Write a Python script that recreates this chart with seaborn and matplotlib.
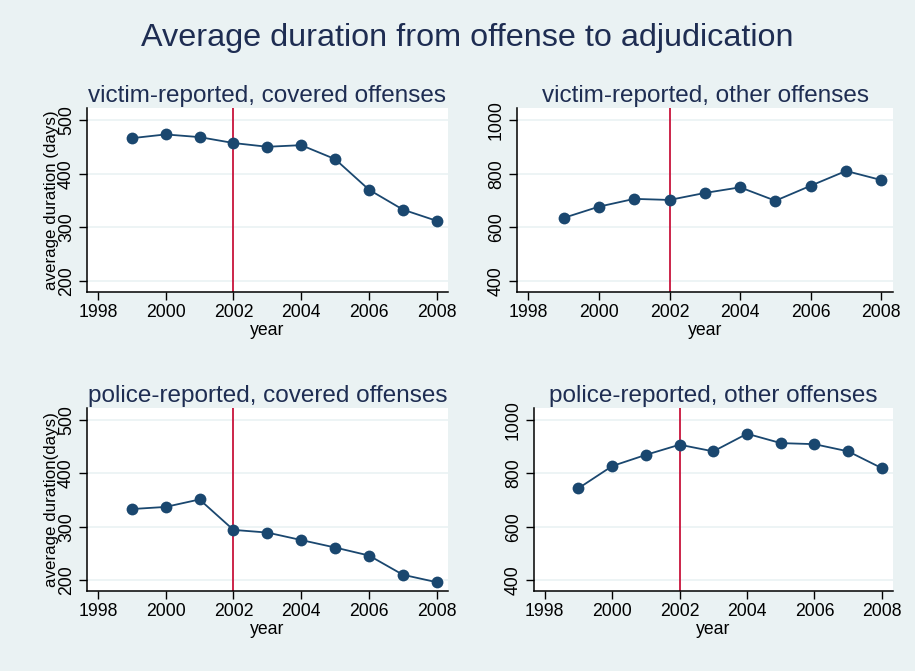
import matplotlib
matplotlib.use("Agg")
import matplotlib.pyplot as plt
import seaborn as sns
import pandas as pd

years = [1999, 2000, 2001, 2002, 2003, 2004, 2005, 2006, 2007, 2008]
victim_covered = [466, 473, 468, 457, 450, 453, 427, 370, 333, 312]
victim_other = [635, 677, 706, 702, 728, 749, 699, 755, 810, 776]
police_covered = [333, 337, 351, 294, 289, 275, 261, 246, 210, 196]
police_other = [744, 827, 869, 907, 882, 948, 913, 909, 882, 819]

titles = ["victim-reported, covered offenses", "victim-reported, other offenses",
          "police-reported, covered offenses", "police-reported, other offenses"]
series = [victim_covered, victim_other, police_covered, police_other]
ylabels = ["average duration (days)", None, "average duration(days)", None]
yticks_list = [[200, 300, 400, 500], [400, 600, 800, 1000],
               [200, 300, 400, 500], [400, 600, 800, 1000]]
xticks = [1998, 2000, 2002, 2004, 2006, 2008]
cutoff_year = 2002

BG = "#EAF2F3"
NAVY = "#1a476f"
TXT = "#1e2d52"
RED = "#c8143c"

sns.set_theme(style="white")
plt.rcParams["font.family"] = ["Liberation Sans", "DejaVu Sans"]

W, H = 915, 671
fig = plt.figure(figsize=(W / 100, H / 100), dpi=100, facecolor=BG)

# axes boxes in pixels: left, right, top, bottom
boxes = [(87, 448, 108, 292), (517, 893, 108, 292),
         (87, 448, 408, 591), (534, 893, 408, 591)]

for i, (l, r, t, b) in enumerate(boxes):
    ax = fig.add_axes([l / W, 1 - b / H, (r - l) / W, (b - t) / H])
    ax.set_facecolor("white")
    df = pd.DataFrame({"year": years, "value": series[i]})
    yt = yticks_list[i]
    span = yt[-1] - yt[0]
    ax.set_ylim(yt[0] - span * 0.068, yt[-1] + span * 0.074)
    ax.set_xlim(1997.68, 2008.33)
    for v in yt:
        ax.axhline(v, color=BG, lw=1.2, zorder=0)
    ax.axvline(cutoff_year, color=RED, lw=1.3, zorder=1)
    sns.lineplot(data=df, x="year", y="value", ax=ax, color=NAVY, lw=1.3,
                 marker="o", markersize=8.5, markeredgewidth=0, zorder=3)
    ax.set_xticks(xticks)
    ax.set_yticks(yt)
    ax.set_xticklabels([str(x) for x in xticks], fontsize=12.7, color="black")
    ax.set_yticklabels([str(y) for y in yt], fontsize=12.7, color="black",
                       rotation=90, va="center")
    ax.tick_params(axis="both", which="major", direction="out", length=5.7,
                   width=1, color="black", left=True, bottom=True)
    ax.tick_params(axis="x", pad=3)
    ax.tick_params(axis="y", pad=3)
    for s in ["top", "right"]:
        ax.spines[s].set_visible(False)
    for s in ["left", "bottom"]:
        ax.spines[s].set_color("black")
        ax.spines[s].set_linewidth(1.1)
    ax.set_xlabel("year", fontsize=12.7, color="black", labelpad=0.5)
    if ylabels[i]:
        ax.set_ylabel(ylabels[i], fontsize=12.2, color="black")
        ax.yaxis.set_label_coords((59 - l) / (r - l), 0.5)
    else:
        ax.set_ylabel("")
    ax.set_title(titles[i], fontsize=17.5, color=TXT, pad=4)

fig.text(467 / W, 1 - 38 / H, "Average duration from offense to adjudication",
         fontsize=23.3, color=TXT, ha="center", va="center")

fig.savefig("out.png", dpi=100, facecolor=BG)
